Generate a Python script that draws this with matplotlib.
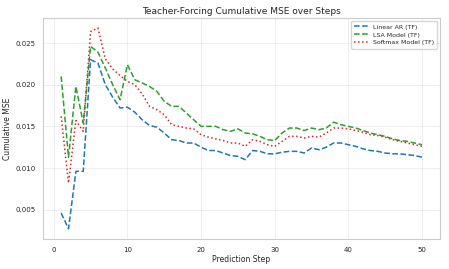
import numpy as np
import matplotlib
matplotlib.use("Agg")
import matplotlib.pyplot as plt
import seaborn as sns

steps = np.arange(1, 51)

linear_ar = [0.0046, 0.0027, 0.0096, 0.0096, 0.0230, 0.0226, 0.0200, 0.0185, 0.0172, 0.0173,
             0.0167, 0.0158, 0.0151, 0.0149, 0.0142, 0.0134, 0.0133, 0.0130, 0.0130, 0.0125,
             0.0121, 0.0121, 0.0118, 0.0115, 0.0114, 0.0110, 0.0121, 0.0120, 0.0117, 0.0117,
             0.0119, 0.0120, 0.0120, 0.0118, 0.0124, 0.0122, 0.0125, 0.0130, 0.0130, 0.0128,
             0.0126, 0.0123, 0.0121, 0.0120, 0.0118, 0.0117, 0.0117, 0.0116, 0.0115, 0.0113]

lsa_model = [0.0210, 0.0113, 0.0198, 0.0154, 0.0246, 0.0239, 0.0220, 0.0200, 0.0182, 0.0224,
             0.0206, 0.0202, 0.0198, 0.0192, 0.0180, 0.0174, 0.0174, 0.0166, 0.0158, 0.0150,
             0.0150, 0.0150, 0.0146, 0.0144, 0.0147, 0.0142, 0.0141, 0.0138, 0.0134, 0.0133,
             0.0142, 0.0148, 0.0148, 0.0145, 0.0148, 0.0146, 0.0148, 0.0155, 0.0152, 0.0150,
             0.0148, 0.0145, 0.0142, 0.0140, 0.0138, 0.0135, 0.0133, 0.0132, 0.0130, 0.0128]

softmax_model = [0.0162, 0.0082, 0.0157, 0.0144, 0.0264, 0.0268, 0.0231, 0.0219, 0.0211, 0.0204,
                 0.0200, 0.0189, 0.0174, 0.0170, 0.0164, 0.0152, 0.0150, 0.0148, 0.0147, 0.0140,
                 0.0137, 0.0135, 0.0133, 0.0130, 0.0130, 0.0126, 0.0134, 0.0132, 0.0128, 0.0126,
                 0.0132, 0.0138, 0.0138, 0.0136, 0.0138, 0.0137, 0.0142, 0.0148, 0.0148, 0.0147,
                 0.0145, 0.0143, 0.0140, 0.0139, 0.0137, 0.0134, 0.0132, 0.0130, 0.0128, 0.0126]

sns.set_style("whitegrid")
plt.rcParams['font.family'] = ['DejaVu Sans']

fig, ax = plt.subplots(figsize=(4.49, 2.69), dpi=100)
fig.subplots_adjust(left=0.096, right=0.980, top=0.933, bottom=0.112)

ax.plot(steps, linear_ar, color='tab:blue', linestyle='--', linewidth=1.1, label='Linear AR (TF)')
ax.plot(steps, lsa_model, color='tab:green', linestyle='--', linewidth=1.1, label='LSA Model (TF)')
ax.plot(steps, softmax_model, color='tab:red', linestyle=':', linewidth=1.1, label='Softmax Model (TF)')

ax.set_title('Teacher-Forcing Cumulative MSE over Steps', fontsize=6.5, pad=3)
ax.set_xlabel('Prediction Step', fontsize=5.5, labelpad=2)
ax.set_ylabel('Cumulative MSE', fontsize=5.5, labelpad=2)
ax.tick_params(labelsize=5, pad=2)
ax.grid(True, linewidth=0.4, alpha=0.6)
for s in ax.spines.values():
    s.set_linewidth(0.8)
ax.legend(loc='upper right', fontsize=4.5, handlelength=2.2, borderpad=0.5, labelspacing=0.4)

plt.savefig('out.png', dpi=100)
